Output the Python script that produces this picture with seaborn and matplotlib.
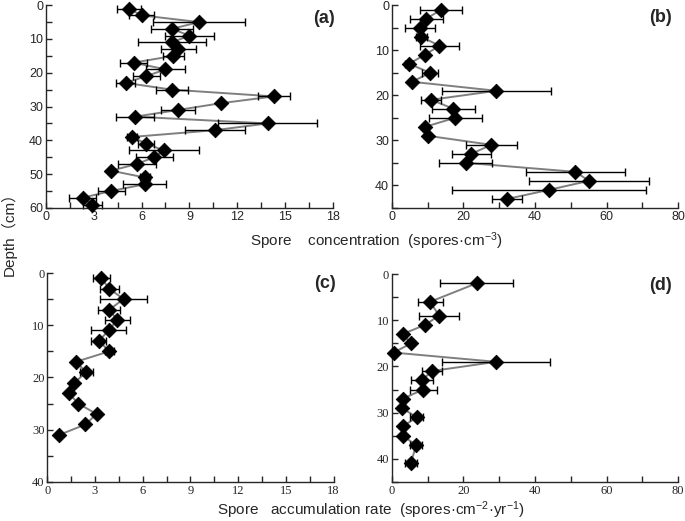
import numpy as np
import pandas as pd
import matplotlib
matplotlib.use("Agg")
import matplotlib.pyplot as plt
import seaborn as sns
from matplotlib.ticker import MultipleLocator

sns.set_style("ticks")
plt.rcParams['font.family'] = ['Liberation Sans', 'Noto Sans CJK SC', 'DejaVu Sans']
plt.rcParams['mathtext.fontset'] = 'custom'
plt.rcParams['mathtext.rm'] = 'Liberation Sans'
plt.rcParams['mathtext.it'] = 'Liberation Sans'

# (a) spore concentration
depth_a = [1, 3, 5, 7, 9, 11, 13, 15, 17, 19, 21, 23, 25, 27, 29, 31, 33, 35, 37, 39,
           41, 43, 45, 47, 49, 51, 53, 55, 57, 59]
conc_a = [5.2, 6.0, 9.6, 7.9, 9.0, 7.9, 8.3, 8.0, 5.5, 7.5, 6.3, 5.0, 7.9, 14.3, 11.0,
          8.3, 5.6, 13.9, 10.6, 5.4, 6.3, 7.4, 6.8, 5.7, 4.1, 6.2, 6.2, 4.1, 2.3, 2.9]
err_a = [0.75, 0.8, 2.9, 1.3, 1.55, 2.15, 1.1, 0.65, 0.85, 1.2, 0.85, 0.6, 1.0, 1.0, 0.0,
         1.05, 1.2, 3.1, 1.9, 0.3, 0.5, 2.2, 1.15, 1.2, 0.0, 0.3, 1.35, 0.85, 0.85, 0.6]

# (b) spore concentration
depth_b = [1, 3, 5, 7, 9, 11, 13, 15, 17, 19, 21, 23, 25, 27, 29, 31, 33, 35, 37, 39, 41, 43]
conc_b = [13.8, 9.6, 8.0, 8.2, 13.3, 9.3, 4.8, 10.7, 5.6, 29.2, 11.0, 17.2, 17.7, 9.3,
          10.1, 27.8, 22.2, 20.6, 51.3, 55.1, 43.9, 32.3]
err_b = [5.8, 4.6, 4.2, 1.5, 5.4, 0.0, 1.0, 2.3, 0.0, 15.2, 2.8, 6.0, 7.4, 0.0,
         0.0, 7.2, 5.5, 7.4, 13.8, 16.8, 27.0, 4.2]

# (c) spore accumulation rate
depth_c = [1, 3, 5, 7, 9, 11, 13, 15, 17, 19, 21, 23, 25, 27, 29, 31]
rate_c = [3.4, 3.9, 4.8, 3.9, 4.4, 3.85, 3.25, 3.9, 1.8, 2.45, 1.7, 1.35, 1.95, 3.1, 2.4, 0.75]
err_c = [0.53, 0.58, 1.48, 0.68, 0.78, 1.12, 0.47, 0.3, 0.0, 0.42, 0.0, 0.0, 0.0, 0.0, 0.0, 0.0]

# (d) spore accumulation rate
depth_d = [2, 6, 9, 11, 13, 15, 17, 19, 21, 23, 25, 27, 29, 31, 33, 35, 37, 41]
rate_d = [23.7, 10.7, 13.2, 9.3, 3.0, 5.4, 0.5, 29.1, 11.2, 8.4, 8.8, 3.0, 2.8, 7.0,
          3.0, 3.0, 6.8, 5.3]
err_d = [10.2, 3.5, 5.5, 0.0, 0.0, 0.0, 0.0, 15.2, 2.9, 3.0, 3.7, 0.0, 0.0, 1.8,
         0.0, 0.0, 1.7, 1.6]

panels = [
    ("(a)", depth_a, conc_a, err_a, [0.067, 0.601, 0.419, 0.389], 18, 3, 60, (0.97, 0.936), False),
    ("(b)", depth_b, conc_b, err_b, [0.572, 0.601, 0.418, 0.389], 80, 20, 45, (0.937, 0.94), False),
    ("(c)", depth_c, rate_c, err_c, [0.069, 0.075, 0.418, 0.401], 18, 3, 40, (0.97, 0.952), True),
    ("(d)", depth_d, rate_d, err_d, [0.572, 0.075, 0.418, 0.399], 80, 20, 45, (0.937, 0.947), True),
]

fig = plt.figure(figsize=(6.85, 5.21), dpi=100)

for label, depth, val, err, rect, xmax, xstep, ymax, lpos, serif in panels:
    ax = fig.add_axes(rect)
    df = pd.DataFrame({"depth": depth, "value": val, "err": err})
    sns.lineplot(data=df, x="value", y="depth", orient="y", color="#7f7f7f",
                 linewidth=1.4, ax=ax, zorder=1)
    ax.errorbar(df["value"], df["depth"], xerr=df["err"], fmt="none", ecolor="black",
                elinewidth=1.0, capsize=3, capthick=1.0, zorder=2, clip_on=False)
    sns.scatterplot(data=df, x="value", y="depth", marker="D", color="black", s=55,
                    edgecolor="black", ax=ax, zorder=3, clip_on=False)
    ax.set_xlim(0, xmax)
    ax.set_ylim(ymax, 0)
    ax.xaxis.set_major_locator(MultipleLocator(xstep))
    ax.xaxis.set_minor_locator(MultipleLocator(xstep / 2))
    ax.yaxis.set_major_locator(MultipleLocator(10))
    ax.yaxis.set_minor_locator(MultipleLocator(5))
    ax.tick_params(which="both", direction="in", length=4, width=1, labelsize=9, pad=2)
    ax.set_xlabel("")
    ax.set_ylabel("")
    sns.despine(ax=ax)
    for sp in ax.spines.values():
        sp.set_linewidth(1.0)
    if serif:
        for t in ax.get_xticklabels() + ax.get_yticklabels():
            t.set_fontfamily("Liberation Serif")
    ax.text(lpos[0], lpos[1], label, transform=ax.transAxes, fontsize=13, fontweight="bold",
            ha="center", va="center")

fig.text(0.549, 0.538, "Spore    concentration  (spores·cm$^{-3}$)", fontsize=11,
         ha="center", va="center")
fig.text(0.542, 0.021, "Spore   accumulation rate  (spores·cm$^{-2}$·yr$^{-1}$)", fontsize=11,
         ha="center", va="center")
fig.text(0.012, 0.558, "Depth（cm）", rotation=90, fontsize=11, ha="center", va="center",
         family=['Liberation Sans', 'Noto Sans CJK SC'])

fig.savefig("out.png", dpi=100)
